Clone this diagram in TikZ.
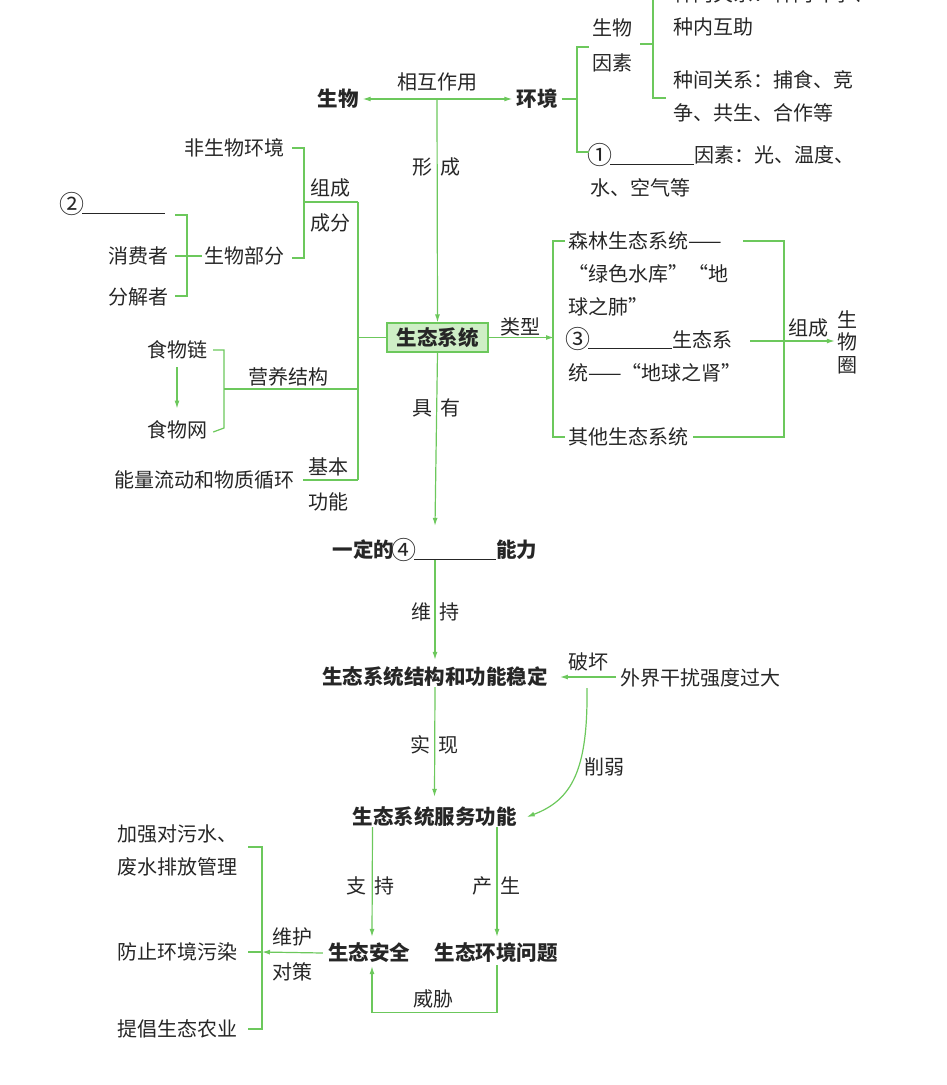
\documentclass[tikz,border=0pt]{standalone}
\usepackage{fontspec}
\newfontfamily\cjk{Noto Sans CJK SC}
\usetikzlibrary{arrows.meta,positioning}
\definecolor{linegreen}{RGB}{108,200,92}
\definecolor{boxgreen}{RGB}{206,238,198}
\definecolor{inkgray}{RGB}{38,38,38}
\newcommand{\kongxian}[1]{\rule[-2pt]{#1}{0.8pt}}
\newcommand{\quan}[1]{\makebox[20pt]{\raisebox{-1.8pt}{\smash{\fontsize{25}{25}\selectfont\mdseries #1}}}}

\begin{document}
\begin{tikzpicture}[x=1pt, y=-1pt,
    link/.style={draw=linegreen, line width=1.2pt},
    arr/.style={link, -{Latex[length=8pt,width=5pt]}},
    txt/.style={inner sep=0pt, text=inkgray, align=left, font=\cjk\fontsize{20}{33}\selectfont},
    hd/.style={txt, align=center, font=\cjk\bfseries\fontsize{20.5}{33}\selectfont}]

    % 0. 画布大小
    \useasboundingbox (0,0) rectangle (947,1085);
    \clip (0,0) rectangle (947,1085);

    % 1. 顶部：生物 与 环境
    \node[hd, inner xsep=4pt] (sw) at (338,99) {生物};
    \node[hd, inner xsep=4pt] (hj) at (537,99) {环境};
    \draw[arr, {Latex[length=8pt,width=5pt]}-{Latex[length=8pt,width=5pt]}] (sw.east) -- (hj.west);
    \node[txt] (xhzy) at (437,82) {相互作用};

    % 生态系统方框
    \node[hd, draw=linegreen, fill=boxgreen, line width=1.2pt, minimum width=101pt, minimum height=29pt] (st) at (437.5,337.5) {生态系统};
    \coordinate (xc) at (437,99);
    \draw[arr] (xc) -- (st.north);
    \node[txt] (xingcheng) at (436,167) {形\hspace{8pt}成};

    % 2. 环境的组成因素
    \node[txt, align=center, font=\cjk\fontsize{20}{35}\selectfont] (swys) at (612,45.5) {生物\\因素};
    \node[txt, anchor=west] (fsw) at (590,171.5) {\quan{①}\kongxian{84pt}因素：光、温度、\\水、空气等};
    \draw[link] (hj.east) -- (577,99);
    \draw[link] (589,47) -| (577,152) -- (589,152);

    \node[txt, anchor=west] (zn) at (673,10.5) {种内关系：种内斗争、\\种内互助};
    \node[txt, anchor=west] (zj) at (673,96.5) {种间关系：捕食、竞\\争、共生、合作等};
    \draw[link] ([xshift=8pt]swys.east |- 0,44) -- (653,44);
    \draw[link] (666,-10) -| (653,98) -- (666,98);

    % 3. 左侧：组成成分、营养结构、基本功能
    \node[txt, anchor=east] (fswhj) at (285,148) {非生物环境};
    \node[txt, anchor=east] (swbf) at (285,256) {生物部分};
    \draw[link] ([xshift=7pt]fswhj.east) -| (304,258) -- ([xshift=7pt,yshift=-2pt]swbf.east);
    \draw[link] (304,202) -- (358,202);
    \node[txt] (zc1) at (330,188) {组成};
    \node[txt] (zc2) at (330,223) {成分};

    \draw[link] (358,202) -- (358,480);
    \draw[link] (358,337.5) -- (st.west);

    \node[txt, anchor=west] (kb2) at (62,213) {\quan{②}\kongxian{83pt}};
    \node[txt] (xfz) at (138,256) {消费者};
    \node[txt] (fjz) at (138,297) {分解者};
    \draw[link] ([xshift=-3pt]swbf.west) -- (175,256);
    \draw[link] (175,215) -| (187,296) -- (175,296);

    \node[txt] (swl) at (177,350) {食物链};
    \node[txt] (swwang) at (177,430) {食物网};
    \draw[arr] ([yshift=-8pt]swl.south) -- ([yshift=12pt]swwang.north);
    \draw[link] ([xshift=6pt]swl.east) -| (224,428) -- ([xshift=6pt,yshift=-2pt]swwang.east);
    \draw[link] (358,389) -- (224,389);
    \node[txt] (yyjg) at (288,377) {营养结构};

    \node[txt, anchor=east] (nlld) at (295,480) {能量流动和物质循环};
    \draw[link] ([xshift=8pt]nlld.east) -- (358,480);
    \node[txt] (jb1) at (328,467) {基本};
    \node[txt] (jb2) at (328,502) {功能};

    % 4. 右侧：类型
    \draw[arr] (st.east) -- (554,337.5);
    \node[txt] (lx) at (520,327) {类型};
    \draw[link] (565,241) -| (553,437) -- (565,437);
    \node[txt, anchor=west] (sl) at (568,274) {森林生态系统——\\“绿色水库”“地\\球之肺”};
    \node[txt, anchor=west] (sd) at (568,356) {\quan{③}\kongxian{84pt}生态系\\统——“地球之肾”};
    \node[txt, anchor=west] (qt) at (568,437) {其他生态系统};
    \node[txt, align=center, font=\cjk\fontsize{20}{22.5}\selectfont] (swq) at (847,342) {生\\物\\圈};
    \draw[link] (743,241) -| (784,437) -- ([xshift=5pt]qt.east);
    \coordinate (zcs) at (750,341);
    \draw[arr] (zcs) -- ([xshift=-2pt]swq.west |- zcs);
    \node[txt] (zc3) at (808,328) {组成};

    % 5. 中部主线
    \node[hd] (nl) at (435,550) {一定的\quan{④}\kongxian{82pt}能力};
    \draw[arr] (st.south) -- ([yshift=14pt]nl.north);
    \node[txt] (jy) at (436,408) {具\hspace{8pt}有};

    \node[hd] (wd) at (435,677) {生态系统结构和功能稳定};
    \draw[arr] (nl.south) -- ([yshift=7pt]wd.north);
    \node[txt] (wc) at (435,612) {维\hspace{8pt}持};

    \node[txt, anchor=west] (wj) at (620,678) {外界干扰强度过大};
    \draw[arr] ([xshift=-4pt,yshift=1pt]wj.west) -- ([xshift=12pt]wd.east);
    \node[txt] (ph) at (588,662) {破坏};

    \node[hd] (fw) at (434.5,817) {生态系统服务功能};
    \draw[arr] (wd.south) -- ([yshift=10pt]fw.north);
    \node[txt] (sx) at (434,745) {实\hspace{8pt}现};
    \coordinate (qr) at (587,688);
    \draw[arr] (qr) .. controls (588,770) and (572,800) .. ([xshift=10pt]fw.east);
    \node[txt] (xr) at (604,767) {削弱};

    % 6. 底部：生态安全与生态环境问题
    \node[hd] (aq) at (369,953) {生态安全};
    \node[hd] (wt) at (496,953) {生态环境问题};
    \draw[arr] ([xshift=-62pt]fw.south) -- ([xshift=3pt,yshift=6pt]aq.north);
    \draw[arr] ([xshift=62.5pt]fw.south) -- ([xshift=1pt,yshift=6pt]wt.north);
    \node[txt] (zch) at (370,886) {支\hspace{8pt}持};
    \node[txt] (cs) at (496,886) {产\hspace{8pt}生};
    \draw[arr] ([xshift=1pt,yshift=-2pt]wt.south) -- ++(0,47) -| ([xshift=3pt,yshift=-3pt]aq.south);
    \node[txt] (wx) at (433,999) {威胁};

    % 7. 左下：维护对策
    \node[txt, anchor=west] (jq) at (117,850) {加强对污水、\\废水排放管理};
    \node[txt, anchor=west] (fz) at (117,952) {防止环境污染};
    \node[txt, anchor=west] (tc) at (117,1029) {提倡生态农业};
    \coordinate (dc) at (262,952);
    \draw[arr] ([xshift=-5pt]aq.west) -- (dc);
    \draw[link] (dc) -- ([xshift=11pt]fz.east);
    \draw[link] (248,847) -| (262,1029) -- ([xshift=11pt]tc.east);
    \node[txt] (wh) at (292,937) {维护};
    \node[txt] (dcl) at (292,972) {对策};

\end{tikzpicture}
\end{document}
